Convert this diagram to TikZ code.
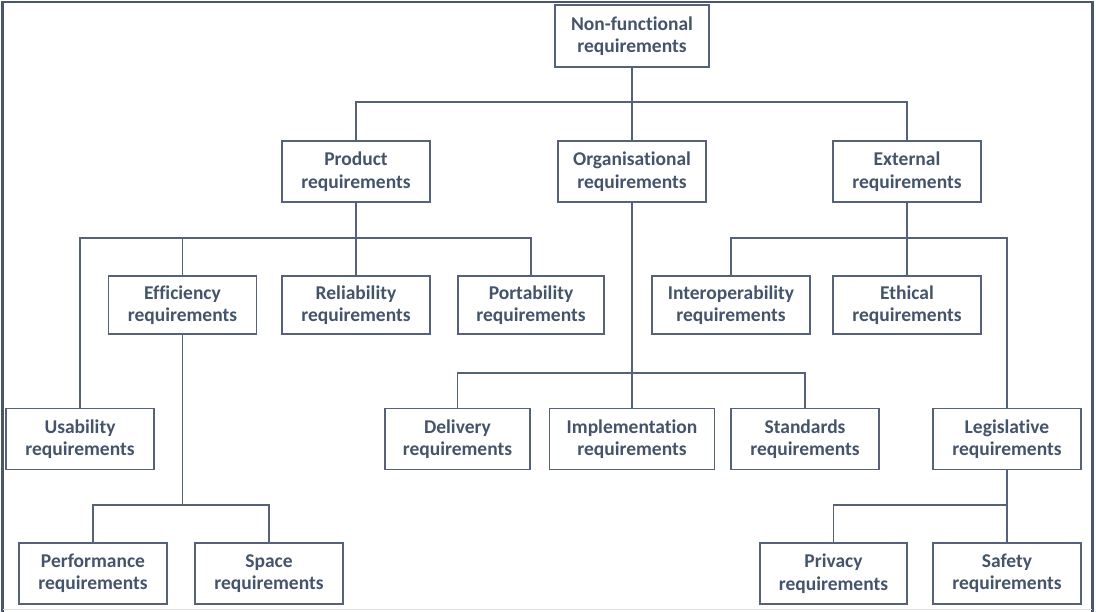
\documentclass[tikz,border=0pt]{standalone}
\usepackage{fontspec}
\setmainfont[Ligatures=NoCommon]{Carlito}
\definecolor{txt}{HTML}{44546A}
\definecolor{ln}{HTML}{56627A}
\definecolor{frm}{HTML}{4A5670}
\begin{document}
\begin{tikzpicture}[x=1pt,y=-1pt,
  box/.style={draw=ln, line width=1.2pt, fill=white, align=center, text=txt,
    font=\fontsize{19.5}{22.5}\selectfont\bfseries, inner sep=0pt,
    minimum width=148pt, minimum height=61pt},
  low/.style={minimum height=58pt},
  conn/.style={draw=ln, line width=1.2pt}]
\useasboundingbox (0,0) rectangle (1096,612);
\fill[white] (0,0) rectangle (1096,612);
\draw[frm, line width=2.5pt] (2.5,612) -- (2.5,2) -- (1092.5,2) -- (1092.5,612);
\draw[gray!25, line width=1pt] (3,609.5) -- (1092,609.5);

\node[box, minimum width=154pt, minimum height=62pt] (nf) at (632,36) {Non-functional\\requirements};
\node[box] (prod) at (356,171.5) {Product\\requirements};
\node[box] (org) at (632,171.5) {Organisational\\requirements};
\node[box] (ext) at (907,171.5) {External\\requirements};

\node[box, low] (eff) at (182.5,305) {Efficiency\\requirements};
\node[box, low] (rel) at (356,305) {Reliability\\requirements};
\node[box, low, minimum width=146pt] (port) at (531,305) {Portability\\requirements};
\node[box, low, minimum width=158pt] (inter) at (731,305) {Interoperability\\requirements};
\node[box, low] (eth) at (907,305) {Ethical\\requirements};

\node[box] (use) at (80,439) {Usability\\requirements};
\node[box, minimum width=145pt] (del) at (457.5,439) {Delivery\\requirements};
\node[box, minimum width=165pt] (imp) at (632,439) {Implementation\\requirements};
\node[box] (std) at (805,439) {Standards\\requirements};
\node[box] (leg) at (1007,439) {Legislative\\requirements};

\node[box] (perf) at (93,573.5) {Performance\\requirements};
\node[box] (space) at (269,573.5) {Space\\requirements};
\node[box, minimum width=147pt] (priv) at (833.5,573.5) {Privacy\\requirements};
\node[box] (safe) at (1007,573.5) {Safety\\requirements};

\coordinate (b1) at (632,102);
\coordinate (b2) at (356,238);
\coordinate (b3) at (182.5,505);
\coordinate (b4) at (632,373);
\coordinate (b5) at (907,238);
\coordinate (b6) at (1007,505);

\draw[conn] (nf.south) -- (b1);
\draw[conn] (prod.north) |- (b1) -| (ext.north);
\draw[conn] (b1) -- (org.north);

\draw[conn] (prod.south) -- (rel.north);
\draw[conn] (use.north) |- (b2) -| (port.north);
\draw[conn] (eff.north) -- (eff.north |- b2);

\draw[conn] (eff.south) -- (b3);
\draw[conn] (perf.north) |- (b3) -| (space.north);

\draw[conn] (org.south) -- (imp.north);
\draw[conn] (del.north) |- (b4) -| (std.north);

\draw[conn] (ext.south) -- (eth.north);
\draw[conn] (inter.north) |- (b5) -| (leg.north);

\draw[conn] (leg.south) -- (safe.north);
\draw[conn] (priv.north) |- (b6);
\end{tikzpicture}
\end{document}
